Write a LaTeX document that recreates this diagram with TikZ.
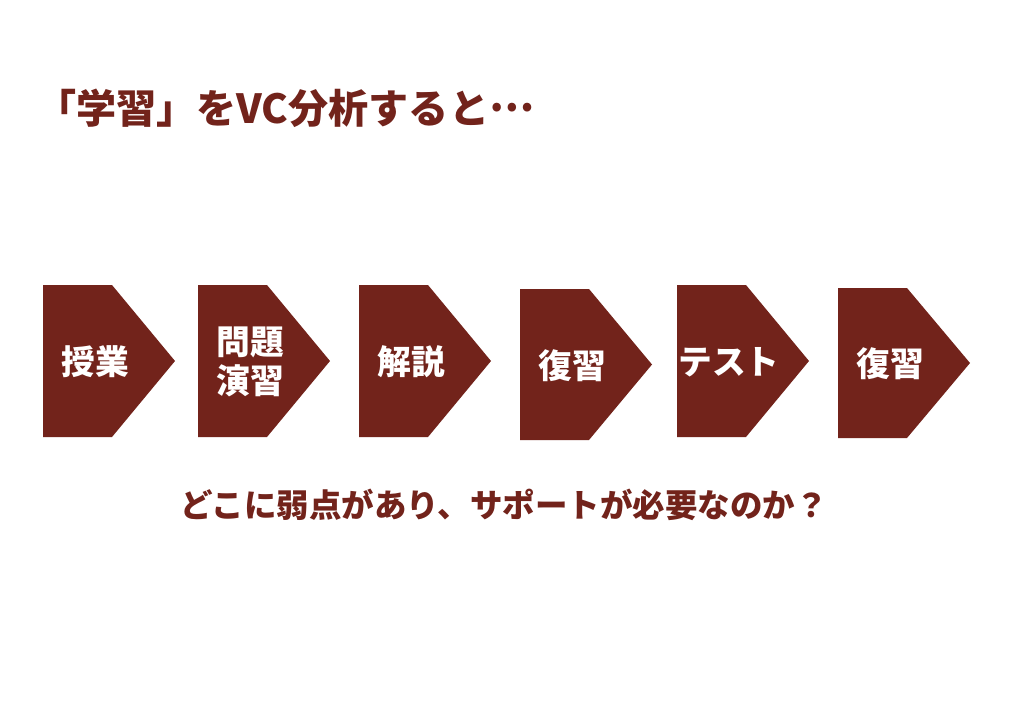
\documentclass[tikz,border=0pt]{standalone}
\usepackage{fontspec}
\newfontfamily\jpfont{Noto Sans CJK JP}
\usetikzlibrary{positioning}
\definecolor{vcred}{RGB}{114,35,27}
\tikzset{
  steptext/.style={text=white,font=\jpfont\bfseries\fontsize{24}{27.7}\selectfont,align=center,inner sep=0pt},
  heading/.style={text=vcred,font=\jpfont\bfseries\fontsize{28.5}{34}\selectfont,inner sep=0pt}
}
\begin{document}
\begin{tikzpicture}[x=0.025cm,y=-0.025cm,line join=miter]
\useasboundingbox (0,0) rectangle (1024,711);
% title
\node[heading,anchor=west] (title) at (36,108) {「学習」をVC分析すると\raisebox{0.3em}{…}};
% chevrons: left edge / top / bottom / label
\foreach \x/\t/\b/\lbl [count=\i] in {43/285/437/授業,198/285/437/{問題\\演習},359/285/437/解説,520/289/440/復習,677/285/437/テスト,838/288/438/復習}{
  \fill[vcred] (\x,\t) -- (\x+69,\t) -- (\x+132,{(\t+\b)/2}) -- (\x+69,\b) -- (\x,\b) -- cycle;
  \node[steptext] (step\i) at (\x+52,{(\t+\b)/2+1}) {\lbl};
}
% question
\node[heading,font=\jpfont\bfseries\fontsize{23.1}{28}\selectfont] (question) at (504,505) {どこに弱点があり、サポートが必要なのか？};
\end{tikzpicture}
\end{document}
